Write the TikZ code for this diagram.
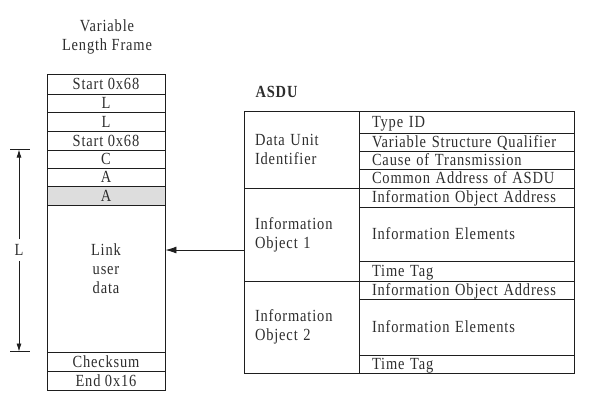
\documentclass[tikz,border=0pt]{standalone}
\usepackage{fontspec}
\setmainfont{Liberation Serif}[FakeStretch=0.85, LetterSpace=5]
\usepackage{tikz}
\usetikzlibrary{positioning, arrows.meta}
\definecolor{LineGray}{RGB}{30,30,30}
\definecolor{TextGray}{RGB}{45,45,45}
\definecolor{CellGray}{RGB}{221,221,221}

\begin{document}
\begin{tikzpicture}[x=1pt, y=-1pt]
  \tikzset{
    txt/.style={text=TextGray, font=\fontsize{17}{19}\selectfont},
    fr/.style={txt, draw=LineGray, line width=0.9pt, minimum width=118, inner sep=0pt},
    fld/.style={txt, draw=LineGray, line width=0.9pt, text width=189, inner xsep=13, inner ysep=0pt, align=left, text depth=1pt},
    grp/.style={txt, draw=LineGray, line width=0.9pt, text width=93, inner xsep=11, inner ysep=0pt, align=left},
    tip/.style={-{Latex[length=8,width=5]}, line width=0.8pt, draw=LineGray}}
  \useasboundingbox (0,0) rectangle (591,400);

  % variable length frame
  \node[txt, align=center] (title) at (107,37) {Variable\\Length Frame};
  \node[fr, minimum height=20] (s1) at (106,84) {Start 0x68};
  \node[fr, minimum height=18] (l1) at (106,103) {L};
  \node[fr, minimum height=19] (l2) at (106,121.5) {L};
  \node[fr, minimum height=19] (s2) at (106,140.5) {Start 0x68};
  \node[fr, minimum height=18] (c) at (106,159) {C};
  \node[fr, minimum height=18] (a1) at (106,177) {A};
  \node[fr, minimum height=19, fill=CellGray] (a2) at (106,195.5) {A};
  \node[fr, minimum height=147] (data) at (106,278.5) {};
  \node[txt, align=center] (datatxt) at (106,269) {Link\\user\\data};
  \node[fr, minimum height=19] (cs) at (106,361.5) {Checksum};
  \node[fr, minimum height=19] (end) at (106,380.5) {End 0x16};

  % length L
  \coordinate (lx) at (19,0);
  \coordinate (ltop) at (lx |- c.north);
  \coordinate (lbot) at (lx |- cs.north);
  \node[txt, inner sep=5pt] (lenL) at (19,250) {L};
  \draw[tip] (lenL) -- (ltop);
  \draw[tip] (lenL) -- (lbot);
  \draw[line width=0.8pt, LineGray] ([xshift=-9]ltop) -- ([xshift=11]ltop);
  \draw[line width=0.8pt, LineGray] ([xshift=-9]lbot) -- ([xshift=11]lbot);

  % ASDU
  \node[txt, font=\fontsize{17}{19}\selectfont\bfseries] (asdu) at (276.5,92) {ASDU};
  \node[grp, minimum height=77] (dui) at (301.5,149.5) {Data Unit\\Identifier};
  \node[grp, minimum height=93] (io1) at (301.5,234.5) {Information\\Object 1};
  \node[grp, minimum height=92] (io2) at (301.5,327) {Information\\Object 2};
  \node[fld, minimum height=22] (tid) at (466.5,122) {Type ID};
  \node[fld, minimum height=18] (vsq) at (466.5,142) {Variable Structure Qualifier};
  \node[fld, minimum height=18] (cot) at (466.5,160) {Cause of Transmission};
  \node[fld, minimum height=19] (ca) at (466.5,178.5) {Common Address of ASDU};
  \node[fld, minimum height=19] (ioa1) at (466.5,197.5) {Information Object Address};
  \node[fld, minimum height=54] (ie1) at (466.5,234) {Information Elements};
  \node[fld, minimum height=20] (tt1) at (466.5,271) {Time Tag};
  \node[fld, minimum height=18] (ioa2) at (466.5,290) {Information Object Address};
  \node[fld, minimum height=56] (ie2) at (466.5,327) {Information Elements};
  \node[fld, minimum height=18] (tt2) at (466.5,364) {Time Tag};

  % ASDU goes into the user data
  \coordinate (arry) at (0,250);
  \draw[-{Latex[length=11,width=7]}, line width=0.8pt, LineGray] (io1.west |- arry) -- (data.east |- arry);
\end{tikzpicture}
\end{document}
